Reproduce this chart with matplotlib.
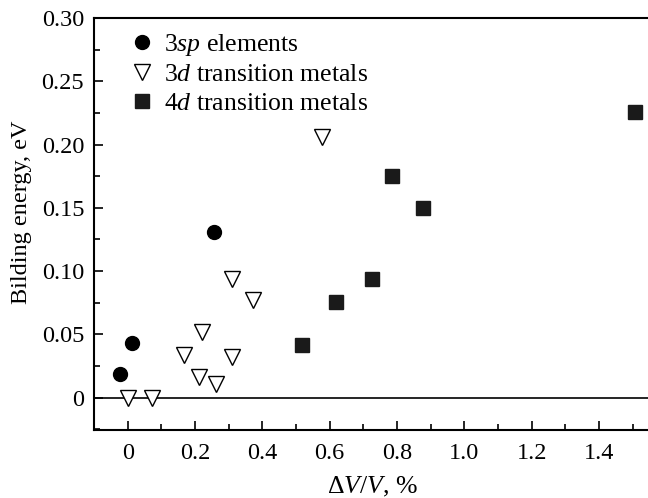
import matplotlib
matplotlib.use("Agg")
import matplotlib.pyplot as plt
from matplotlib.ticker import FixedLocator, MultipleLocator

plt.rcParams['font.family'] = ['Liberation Serif', 'DejaVu Serif']
plt.rcParams['mathtext.fontset'] = 'custom'
plt.rcParams['mathtext.rm'] = 'Liberation Serif'
plt.rcParams['mathtext.it'] = 'Liberation Serif:italic'

# Data
sp_x = [-0.024, 0.012, 0.256]
sp_y = [0.019, 0.043, 0.131]

d3_x = [0.0, 0.073, 0.168, 0.213, 0.22, 0.262, 0.309, 0.309, 0.371, 0.578]
d3_y = [0.0, 0.0, 0.034, 0.016, 0.052, 0.011, 0.032, 0.094, 0.077, 0.206]

d4_x = [0.519, 0.62, 0.726, 0.786, 0.877, 1.506]
d4_y = [0.042, 0.076, 0.094, 0.175, 0.150, 0.226]

labels = ["3$\\it{sp}$ elements", "3$\\it{d}$ transition metals", "4$\\it{d}$ transition metals"]
xticks = [0, 0.2, 0.4, 0.6, 0.8, 1.0, 1.2, 1.4]
xticklabels = ["0", "0.2", "0.4", "0.6", "0.8", "1.0", "1.2", "1.4"]
yticks = [0, 0.05, 0.10, 0.15, 0.20, 0.25, 0.30]
yticklabels = ["0", "0.05", "0.10", "0.15", "0.20", "0.25", "0.30"]

FS = 18.5
TFS = 17.5

fig = plt.figure(figsize=(6.48, 4.98), dpi=100)
ax = fig.add_axes([0.145, 0.1365, 0.855, 0.8275])

ax.axhline(0, color='black', lw=1.2, zorder=1)

ax.plot(sp_x, sp_y, 'o', color='black', ms=10, mec='black', ls='none', label=labels[0], zorder=3)
ax.plot(d3_x, d3_y, 'v', color='white', ms=11, mec='black', mew=1.0, ls='none', label=labels[1], zorder=3)
ax.plot(d4_x, d4_y, 's', color='#1a1a1a', ms=9.5, mec='#1a1a1a', ls='none', label=labels[2], zorder=3)

ax.set_xlim(-0.1, 1.545)
ax.set_ylim(-0.0255, 0.30)

ax.xaxis.set_major_locator(FixedLocator(xticks))
ax.set_xticklabels(xticklabels)
ax.xaxis.set_minor_locator(MultipleLocator(0.1))
ax.yaxis.set_major_locator(FixedLocator(yticks))
ax.set_yticklabels(yticklabels)
ax.yaxis.set_minor_locator(MultipleLocator(0.025))

ax.tick_params(which='both', direction='in', top=False, right=False, width=1.2, labelsize=TFS)
ax.tick_params(axis='x', which='major', length=6.5, pad=9)
ax.tick_params(axis='x', which='minor', length=4)
ax.tick_params(axis='y', which='major', length=6.5, pad=7)
ax.tick_params(axis='y', which='minor', length=4)

ax.spines['right'].set_visible(False)
for s in ['left', 'bottom', 'top']:
    ax.spines[s].set_linewidth(1.5)

ax.set_xlabel("Δ$\\it{V}$/$\\it{V}$, %", fontsize=FS)
ax.set_ylabel("Bilding energy, eV", fontsize=17.5)
ax.xaxis.set_label_coords(0.503, -0.11)
ax.yaxis.set_label_coords(-0.112, 0.528)

leg = ax.legend(loc='upper left', bbox_to_anchor=(0.045, 0.99), frameon=False, fontsize=FS,
                handlelength=1.0, handletextpad=0.35, labelspacing=0.2, borderaxespad=0.0)

fig.savefig("out.png", dpi=100)
